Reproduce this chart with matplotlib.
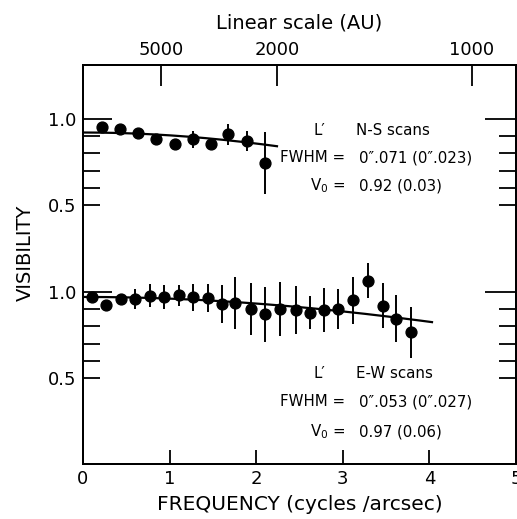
import numpy as np
import matplotlib
matplotlib.use("Agg")
import matplotlib.pyplot as plt

plt.rcParams['font.family'] = ['DejaVu Sans']

# L' N-S scans (upper panel)
ns_freq = [0.22, 0.43, 0.64, 0.84, 1.06, 1.27, 1.48, 1.68, 1.89, 2.10]
ns_vis = [0.95, 0.94, 0.92, 0.88, 0.855, 0.88, 0.855, 0.91, 0.87, 0.745]
ns_err = [0.02, 0.02, 0.02, 0.02, 0.02, 0.05, 0.02, 0.06, 0.058, 0.18]

# L' E-W scans (lower panel)
ew_freq = [0.10, 0.26, 0.44, 0.60, 0.77, 0.93, 1.11, 1.27, 1.44, 1.61, 1.76, 1.94,
           2.10, 2.27, 2.46, 2.62, 2.78, 2.95, 3.12, 3.29, 3.46, 3.62, 3.79]
ew_vis = [0.967, 0.925, 0.958, 0.958, 0.977, 0.97, 0.98, 0.967, 0.963, 0.93, 0.935, 0.90,
          0.87, 0.90, 0.896, 0.88, 0.896, 0.90, 0.95, 1.064, 0.92, 0.844, 0.767]
ew_err = [0.02, 0.02, 0.02, 0.06, 0.066, 0.07, 0.06, 0.08, 0.08, 0.11, 0.15, 0.15,
          0.16, 0.155, 0.14, 0.096, 0.128, 0.118, 0.135, 0.10, 0.13, 0.135, 0.147]

# gaussian fits: V0, FWHM (arcsec), last frequency drawn
ns_fit = (0.92, 0.071, 2.24)
ew_fit = (0.97, 0.053, 4.03)

au_ticks = [5000, 2000, 1000]
au_per_cycle = 4490.0   # AU = au_per_cycle / frequency

freq_ticks = [0, 1, 2, 3, 4, 5]
panel_offset = 1.0      # upper panel drawn one unit higher


def gauss_vis(f, v0, fwhm):
    return v0 * np.exp(-(np.pi * fwhm * f) ** 2 / (4 * np.log(2)))


fig = plt.figure(figsize=(5.17, 5.19), dpi=100)
ax = fig.add_axes([83 / 517, 1 - 464 / 519, 433 / 517, 399 / 519])

for fr, vis, err, fit, off in [(ns_freq, ns_vis, ns_err, ns_fit, panel_offset),
                               (ew_freq, ew_vis, ew_err, ew_fit, 0.0)]:
    ax.errorbar(fr, np.array(vis) + off, yerr=err, fmt='o', color='black',
                ms=7.8, elinewidth=1.4, capsize=0)
    ff = np.linspace(0, fit[2], 200)
    ax.plot(ff, gauss_vis(ff, fit[0], fit[1]) + off, color='black', lw=1.6)

ax.set_xlim(0, 5)
ax.set_ylim(0.005, 2.31)
ax.set_xticks(freq_ticks)
ax.set_xticklabels([str(t) for t in freq_ticks])
ax.set_yticks([0.5, 1.0, 1.5, 2.0])
ax.set_yticklabels(['0.5', '1.0', '0.5', '1.0'])
ax.set_yticks([0.6, 0.7, 0.8, 0.9, 1.6, 1.7, 1.8, 1.9], minor=True)
ax.tick_params(axis='x', direction='in', length=10, width=1.3, labelsize=13,
               pad=4, top=False)
ax.tick_params(axis='y', which='both', direction='in', length=12, width=1.3,
               labelsize=13, pad=5, left=True, right=True)
for tk in ax.yaxis.get_major_ticks():
    if tk.get_loc() in (1.0, 2.0):
        tk.tick1line.set_markersize(21)
        tk.tick2line.set_markersize(22)
for sp in ax.spines.values():
    sp.set_linewidth(1.4)

ax.set_xlabel("FREQUENCY (cycles /arcsec)", fontsize=14.5, labelpad=5)
fig.text(25 / 517, 1 - 253 / 519, "VISIBILITY", rotation=90, fontsize=14,
         ha='center', va='center')

# top axis: linear scale
ax2 = ax.twiny()
ax2.set_xlim(ax.get_xlim())
ax2.set_xticks(au_per_cycle / np.array(au_ticks, dtype=float))
ax2.set_xticklabels([str(t) for t in au_ticks])
ax2.tick_params(axis='x', direction='in', length=15, width=1.3, labelsize=13, pad=4)
ax2.set_xlabel("Linear scale (AU)", fontsize=14, labelpad=9)
for sp in ax2.spines.values():
    sp.set_linewidth(1.4)

# annotations
def px(x, y):
    return x / 517, 1 - y / 519

fs = 10.8
for (ytitle, yfw, yv0, name, fwhm, v0) in [
        (130, 158, 186, "N-S scans", "0\u2033.071 (0\u2033.023)", "0.92 (0.03)"),
        (373, 402, 432, "E-W scans", "0\u2033.053 (0\u2033.027)", "0.97 (0.06)")]:
    fig.text(*px(319, ytitle), "L\u2032", fontsize=fs, ha='center', va='center')
    fig.text(*px(356, ytitle), name, fontsize=fs, ha='left', va='center')
    fig.text(*px(345, yfw), "FWHM =", fontsize=fs, ha='right', va='center')
    fig.text(*px(359, yfw), fwhm, fontsize=fs, ha='left', va='center')
    fig.text(*px(345, yv0), r"$\mathregular{V_0}$ =", fontsize=fs, ha='right', va='center')
    fig.text(*px(359, yv0), v0, fontsize=fs, ha='left', va='center')

fig.savefig("out.png", dpi=100)
